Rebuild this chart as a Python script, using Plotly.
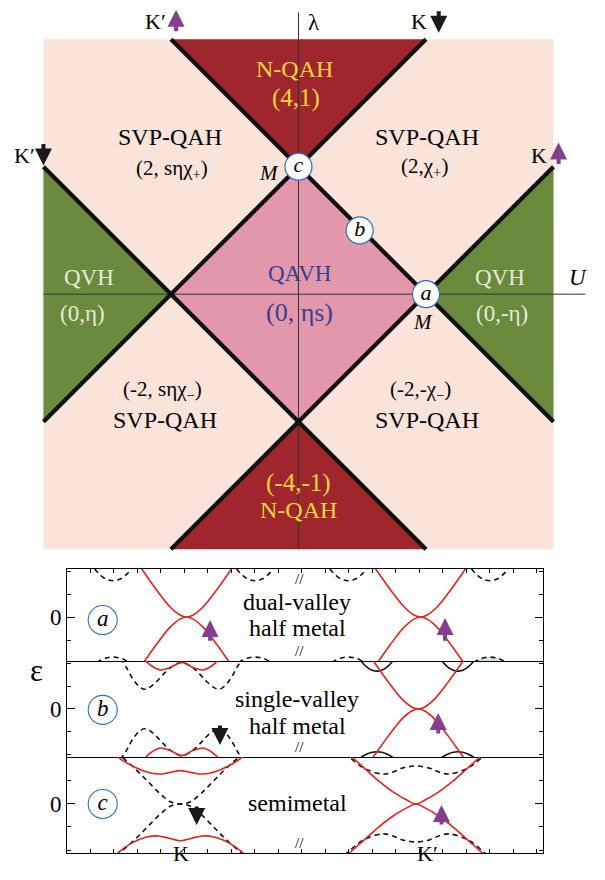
import plotly.graph_objects as go

SERIF = "Liberation Serif"

# ================= phase diagram (top) : (U, lambda) =================
FRAME_U = [-2.0, 2.0, 2.0, -2.0]
FRAME_L = [-2.0, -2.0, 2.0, 2.0]
BOUND_U0 = [-1.0, 1.0, -2.0, 2.0]
BOUND_L0 = [2.0, 2.0, 1.0, 1.0]
BOUND_U1 = [2.0, -2.0, 1.0, -1.0]
BOUND_L1 = [-1.0, -1.0, -2.0, -2.0]
NQAH_TOP_U = [-1.0, 1.0, 0.0]
NQAH_TOP_L = [2.0, 2.0, 1.0]
NQAH_BOT_U = [-1.0, 1.0, 0.0]
NQAH_BOT_L = [-2.0, -2.0, -1.0]
QAVH_U = [0.0, 1.0, 0.0, -1.0]
QAVH_L = [1.0, 0.0, -1.0, 0.0]
QVH_LEFT_U = [-2.0, -1.0, -2.0]
QVH_LEFT_L = [1.0, 0.0, -1.0]
QVH_RIGHT_U = [2.0, 1.0, 2.0]
QVH_RIGHT_L = [1.0, 0.0, -1.0]
U_AXIS = [-2.0, 2.25]
L_AXIS = [-2.0, 2.21]
POINT_LABELS = ["a", "b", "c"]
POINT_U = [1.0, 0.48, 0.0]
POINT_L = [0.0, 0.50, 1.0]

C_BG = "#fae3d9"
C_NQAH = "#a0262d"
C_QAVH = "#e397ab"
C_QVH = "#6b8a3e"
C_YEL = "#f2d43c"
C_BLUE_T = "#3a3e90"
C_QVH_T = "#e6ecd8"
C_PURPLE = "#84408f"
C_RED = "#e3231f"

PHASE_TEXT = [
    ("N-QAH", -0.03, 1.77, 24, C_YEL),
    ("(4,1)", -0.02, 1.54, 25, C_YEL),
    ("SVP-QAH", -1.01, 1.23, 24, "black"),
    ("(2, sηχ<sub>+</sub>)", -0.99, 0.98, 21, "black"),
    ("SVP-QAH", 1.01, 1.23, 24, "black"),
    ("(2,χ<sub>+</sub>)", 0.985, 1.0, 21, "black"),
    ("QVH", -1.64, 0.13, 23, C_QVH_T),
    ("(0,η)", -1.69, -0.15, 23, C_QVH_T),
    ("QAVH", 0.01, 0.16, 23, C_BLUE_T),
    ("(0, ηs)", 0.01, -0.14, 26, C_BLUE_T),
    ("QVH", 1.58, 0.13, 23, C_QVH_T),
    ("(0,-η)", 1.60, -0.15, 23, C_QVH_T),
    ("(-2, sηχ<sub>−</sub>)", -1.07, -0.75, 21, "black"),
    ("SVP-QAH", -1.05, -0.99, 24, "black"),
    ("(-2,-χ<sub>−</sub>)", 0.96, -0.75, 21, "black"),
    ("SVP-QAH", 1.01, -0.99, 24, "black"),
    ("(-4,-1)", 0.0, -1.48, 25, C_YEL),
    ("N-QAH", 0.0, -1.69, 24, C_YEL),
]
# valley/spin labels around the frame: text, U, lambda
CORNER_TEXT = [("K′", -1.12, 2.14), ("K", 0.945, 2.14), ("K′", -2.15, 1.09), ("K", 1.89, 1.09)]
# spin arrows: U, lambda_tail, lambda_tip, colour
TOP_ARROWS = [(-0.96, 2.05, 2.23, C_PURPLE), (1.10, 2.23, 2.05, "#1a1a1a"),
              (-2.0, 1.19, 1.01, "#1a1a1a"), (2.04, 1.01, 1.19, C_PURPLE)]

# ================= band panels (bottom) : (k, epsilon) =================
K_RANGE = [0.0, 20.26]
E_RANGE = {"a": [-1.91, 2.09], "b": [-2.09, 2.09], "c": [-2.13, 2.04]}

# panel a : dual-valley half metal
A_VALLEYS = [5.09, 15.05]
DIRAC_DK = [-2.3, -1.9, -1.27, -0.71, -0.28, 0.0, 0.28, 0.71, 1.27, 1.9, 2.3]
DIRAC_E = [2.6, 2.07, 1.17, 0.45, 0.09, 0.0, 0.09, 0.45, 1.17, 2.07, 2.6]
A_ARC_K = [1.96, 8.0, 11.97, 18.0]
ARC_DK = [-1.0, -0.78, -0.5, -0.25, 0.0, 0.25, 0.5, 0.78, 1.0]
A_ARC_TOP_E = [2.42, 2.09, 1.79, 1.63, 1.58, 1.63, 1.79, 2.09, 2.42]
A_ARC_BOT_E = [-2.21, -2.03, -1.86, -1.77, -1.74, -1.77, -1.86, -2.03, -2.21]

# panel b : single-valley half metal
B_K = 4.88
B_KP = 14.95
B_K_RED_DK = [-2.0, -1.56, -1.35, -0.92, -0.5, 0.0, 0.5, 0.92, 1.35, 1.56, 2.0]
B_K_RED_E = [2.6, 2.13, 1.93, 1.70, 1.80, 2.03, 1.80, 1.70, 1.93, 2.13, 2.6]
B_K_DASH_DK = [-2.6, -2.37, -2.09, -1.8, -1.6, -1.38, -1.07, -0.78, -0.42, 0.0,
               0.42, 0.78, 1.07, 1.38, 1.6, 1.8, 2.09, 2.37, 2.6]
B_K_DASH_E = [2.2, 1.84, 1.33, 0.97, 0.86, 0.93, 1.19, 1.51, 1.84, 2.03,
              1.84, 1.51, 1.19, 0.93, 0.86, 0.97, 1.33, 1.84, 2.2]
B_CUP_K = [13.19, 16.64]
CUP_DK = [-0.9, -0.68, -0.4, -0.2, 0.0, 0.2, 0.4, 0.68, 0.9]
B_CUP_TOP_E = [2.42, 2.09, 1.80, 1.69, 1.65, 1.69, 1.80, 2.09, 2.42]
B_CUP_BOT_E = [-2.31, -2.11, -1.95, -1.88, -1.86, -1.88, -1.95, -2.11, -2.31]

# panel c : semimetal
C_K = 4.83
C_KP = 14.85
C_K_DASH_DK = [-3.0, -2.63, -1.99, -1.42, -0.85, -0.43, 0.0, 0.43, 0.85, 1.42, 1.99, 2.63, 3.0]
C_K_DASH_E = [2.55, 2.17, 1.59, 1.01, 0.43, 0.1, 0.0, 0.1, 0.43, 1.01, 1.59, 2.17, 2.55]
C_K_RED_DK = [-2.9, -2.6, -2.04, -1.47, -0.92, -0.48, 0.0, 0.48, 0.92, 1.47, 2.04, 2.6, 2.9]
C_K_RED_UP_E = [2.4, 1.99, 1.65, 1.40, 1.30, 1.36, 1.45, 1.36, 1.30, 1.40, 1.65, 2.01, 2.4]
C_K_RED_LO_E = [-2.45, -2.07, -1.68, -1.45, -1.39, -1.49, -1.60, -1.49, -1.39, -1.45, -1.68, -2.07, -2.45]
C_KP_RED_DK = [-3.2, -2.84, -2.2, -1.56, -0.94, -0.37, 0.0, 0.37, 0.94, 1.56, 2.2, 2.84, 3.2]
C_KP_RED_E = [2.45, 2.14, 1.56, 0.98, 0.5, 0.16, 0.0, 0.16, 0.5, 0.98, 1.56, 2.14, 2.45]
C_KP_DASH_DK = [-3.3, -2.9, -2.2, -1.4, -1.0, -0.6, -0.3, 0.0, 0.3, 0.6, 1.0, 1.4, 2.2, 2.9, 3.3]
C_KP_DASH_E = [2.5, 2.1, 1.55, 1.30, 1.38, 1.55, 1.62, 1.65, 1.62, 1.55, 1.38, 1.30, 1.55, 2.1, 2.5]

PANEL_NAMES = ["a", "b", "c"]
PANEL_TEXT = {"a": [("dual-valley", 0.64), ("half metal", -0.48)],
              "b": [("single-valley", 0.42), ("half metal", -0.72)],
              "c": [("semimetal", 0.03)]}
TEXT_K = 9.81
LABEL_K = 1.52
LABEL_E = {"a": -0.13, "b": -0.04, "c": 0.0}
# spin arrows: panel, k, eps_tail, eps_tip, colour
BAND_ARROWS = [("a", 6.09, -1.09, -0.13, C_PURPLE), ("a", 16.09, -1.09, -0.04, C_PURPLE),
               ("b", 6.51, -0.65, -1.57, "#1a1a1a"), ("b", 15.80, -1.13, -0.17, C_PURPLE),
               ("c", 5.52, -0.04, -0.91, "#1a1a1a"), ("c", 15.94, -0.96, -0.04, C_PURPLE)]
VALLEY_TICKS = [("K", 4.85), ("K′", 15.36)]
BREAK_K = 9.9

AX = {"a": ("x2", "y2"), "b": ("x3", "y3"), "c": ("x4", "y4")}

fig = go.Figure()


def add_poly(u, l, color):
    fig.add_trace(go.Scatter(x=u + [u[0]], y=l + [l[0]], mode="lines", fill="toself",
                             fillcolor=color, line=dict(width=0, color=color),
                             hoverinfo="skip", showlegend=False, xaxis="x", yaxis="y"))


add_poly(FRAME_U, FRAME_L, C_BG)
add_poly(NQAH_TOP_U, NQAH_TOP_L, C_NQAH)
add_poly(NQAH_BOT_U, NQAH_BOT_L, C_NQAH)
add_poly(QAVH_U, QAVH_L, C_QAVH)
add_poly(QVH_LEFT_U, QVH_LEFT_L, C_QVH)
add_poly(QVH_RIGHT_U, QVH_RIGHT_L, C_QVH)

# thin axes
fig.add_trace(go.Scatter(x=U_AXIS, y=[0, 0], mode="lines", line=dict(color="#333", width=1),
                         hoverinfo="skip", showlegend=False))
fig.add_trace(go.Scatter(x=[0, 0], y=L_AXIS, mode="lines", line=dict(color="#333", width=1),
                         hoverinfo="skip", showlegend=False))
# phase boundaries
for u0, l0, u1, l1 in zip(BOUND_U0, BOUND_L0, BOUND_U1, BOUND_L1):
    fig.add_trace(go.Scatter(x=[u0, u1], y=[l0, l1], mode="lines",
                             line=dict(color="#111", width=4.2),
                             hoverinfo="skip", showlegend=False))
# special points
fig.add_trace(go.Scatter(x=POINT_U, y=POINT_L, mode="markers+text",
                         text=["<i>%s</i>" % s for s in POINT_LABELS],
                         textposition="middle center",
                         textfont=dict(family=SERIF, size=22, color="black"),
                         marker=dict(size=27, color="white", line=dict(color="#2f6fc0", width=1.2)),
                         hoverinfo="skip", showlegend=False))

ann = []
for t, u, l, s, c in PHASE_TEXT:
    ann.append(dict(x=u, y=l, xref="x", yref="y", text=t, showarrow=False,
                    font=dict(family=SERIF, size=s, color=c)))
for t, u, l in CORNER_TEXT:
    ann.append(dict(x=u, y=l, xref="x", yref="y", text=t, showarrow=False,
                    font=dict(family=SERIF, size=22, color="black")))
ann.append(dict(x=0.12, y=2.13, xref="x", yref="y", text="λ", showarrow=False,
                font=dict(family=SERIF, size=23, color="black")))
ann.append(dict(x=2.19, y=0.13, xref="x", yref="y", text="<i>U</i>", showarrow=False,
                font=dict(family=SERIF, size=23, color="black")))
ann.append(dict(x=-0.23, y=0.95, xref="x", yref="y", text="<i>M</i>", showarrow=False,
                font=dict(family=SERIF, size=21, color="black")))
ann.append(dict(x=0.98, y=-0.22, xref="x", yref="y", text="<i>M</i>", showarrow=False,
                font=dict(family=SERIF, size=21, color="black")))
for u, lt, lh, c in TOP_ARROWS:
    ann.append(dict(x=u, y=lh, ax=u, ay=lt, xref="x", yref="y", axref="x", ayref="y",
                    text="", showarrow=True, arrowhead=2, arrowsize=0.85, arrowwidth=4,
                    arrowcolor=c, standoff=0, startstandoff=0))


# ---------------- band traces ----------------
def band(panel, kc, dk, e, color, dash=None, sign=1.0, fill=None):
    xa, ya = AX[panel]
    fig.add_trace(go.Scatter(
        x=[kc + d for d in dk], y=[sign * v for v in e], mode="lines",
        line=dict(color=color, width=1.6, dash=dash, shape="spline", smoothing=1.0),
        fill="toself" if fill else None, fillcolor=fill,
        hoverinfo="skip", showlegend=False, xaxis=xa, yaxis=ya))


DASH = "5px,4px"
# panel a
for kc in A_ARC_K:
    band("a", kc, ARC_DK, A_ARC_TOP_E, "#111", DASH)
for i, kc in enumerate(A_ARC_K):
    band("a", kc, ARC_DK, A_ARC_BOT_E, "#111", DASH, fill=("#cfe5cf" if i == 3 else None))
for kc in A_VALLEYS:
    band("a", kc, DIRAC_DK, DIRAC_E, C_RED)
    band("a", kc, DIRAC_DK, DIRAC_E, C_RED, sign=-1.0)
# panel b
band("b", B_K, B_K_DASH_DK, B_K_DASH_E, "#111", DASH)
band("b", B_K, B_K_DASH_DK, B_K_DASH_E, "#111", DASH, sign=-1.0)
band("b", B_K, B_K_RED_DK, B_K_RED_E, C_RED)
band("b", B_K, B_K_RED_DK, B_K_RED_E, C_RED, sign=-1.0)
for kc in B_CUP_K:
    band("b", kc, CUP_DK, B_CUP_TOP_E, "#111")
    band("b", kc, CUP_DK, B_CUP_BOT_E, "#111")
band("b", B_KP, DIRAC_DK, DIRAC_E, C_RED)
band("b", B_KP, DIRAC_DK, DIRAC_E, C_RED, sign=-1.0)
# panel c
band("c", C_K, C_K_DASH_DK, C_K_DASH_E, "#111", DASH)
band("c", C_K, C_K_DASH_DK, C_K_DASH_E, "#111", DASH, sign=-1.0)
band("c", C_K, C_K_RED_DK, C_K_RED_UP_E, C_RED)
band("c", C_K, C_K_RED_DK, C_K_RED_LO_E, C_RED)
band("c", C_KP, C_KP_DASH_DK, C_KP_DASH_E, "#111", DASH)
band("c", C_KP, C_KP_DASH_DK, C_KP_DASH_E, "#111", DASH, sign=-1.0)
band("c", C_KP, C_KP_RED_DK, C_KP_RED_E, C_RED)
band("c", C_KP, C_KP_RED_DK, C_KP_RED_E, C_RED, sign=-1.0)

# panel labels (circled letters)
for p in PANEL_NAMES:
    xa, ya = AX[p]
    fig.add_trace(go.Scatter(x=[LABEL_K], y=[LABEL_E[p]], mode="markers+text",
                             text=["<i>%s</i>" % p], textposition="middle center",
                             textfont=dict(family=SERIF, size=23, color="black"),
                             marker=dict(size=29, color="white", line=dict(color="#2f6fc0", width=1.1)),
                             hoverinfo="skip", showlegend=False, xaxis=xa, yaxis=ya))
    for t, e in PANEL_TEXT[p]:
        ann.append(dict(x=TEXT_K, y=e, xref=xa, yref=ya, text=t, showarrow=False,
                        font=dict(family=SERIF, size=24, color="black")))

for p, k, et, eh, c in BAND_ARROWS:
    xa, ya = AX[p]
    ann.append(dict(x=k, y=eh, ax=k, ay=et, xref=xa, yref=ya, axref=xa, ayref=ya,
                    text="", showarrow=True, arrowhead=2, arrowsize=0.85, arrowwidth=4,
                    arrowcolor=c, standoff=0, startstandoff=0))

for t, k in VALLEY_TICKS:
    ann.append(dict(x=k, y=-0.16, xref="x4", yref="y4 domain", text=t, showarrow=False,
                    font=dict(family=SERIF, size=22, color="black")))

for xa, yd, yv in [("x2", "y2 domain", 1), ("x2", "y2 domain", 0), ("x3", "y3 domain", 0), ("x4", "y4 domain", 0)]:
    ann.append(dict(x=BREAK_K, y=yv, xref=xa, yref=yd, text="//", showarrow=False,
                    font=dict(family=SERIF, size=15, color="black")))

ann.append(dict(x=0.0335, y=0.218, xref="paper", yref="paper", text="ε", showarrow=False,
                font=dict(family=SERIF, size=31, color="black")))

# ---------------- layout ----------------
# page body has an 8px margin: the figure is 597x872, drawn 8px in from the window edge
# top panel: 127.5 px per unit in both directions
top_x = dict(domain=[0, 1], range=[-2.278, 2.404], visible=False, fixedrange=True)
top_y = dict(domain=[0.36697, 1], range=[-2.0847, 2.2447], visible=False, fixedrange=True)

xdom = [0.09883, 0.89615]
ydoms = {"a": [0.25115, 0.35665], "b": [0.14106, 0.25115], "c": [0.03096, 0.14106]}


def xaxis_cfg(anchor, side, ticks, mirror):
    return dict(domain=xdom, range=K_RANGE, anchor=anchor, showline=True, mirror=mirror,
                linecolor="black", linewidth=1, showgrid=False, zeroline=False,
                ticks="inside" if ticks else "", tickmode="linear", tick0=0, dtick=1,
                ticklen=4, tickcolor="black", side=side, showticklabels=False)


def yaxis_cfg(anchor, p):
    return dict(domain=ydoms[p], range=E_RANGE[p], anchor=anchor, showline=True,
                mirror="ticks", linecolor="black", linewidth=1, showgrid=False,
                zeroline=False, ticks="inside", tickmode="array", tickvals=[0],
                ticktext=["0"], ticklen=8, tickcolor="black",
                tickfont=dict(family=SERIF, size=23, color="black"),
                minor=dict(ticks="inside", ticklen=4, tickcolor="black",
                           tickmode="linear", tick0=0, dtick=1))


fig.update_layout(
    width=597, height=872, margin=dict(l=0, r=0, t=0, b=0),
    paper_bgcolor="white", plot_bgcolor="rgba(0,0,0,0)",
    font=dict(family=SERIF),
    showlegend=False, annotations=ann,
    xaxis=top_x, yaxis=top_y,
    xaxis2=xaxis_cfg("y2", "top", True, True), yaxis2=yaxis_cfg("x2", "a"),
    xaxis3=xaxis_cfg("y3", "bottom", False, False), yaxis3=yaxis_cfg("x3", "b"),
    xaxis4=xaxis_cfg("y4", "bottom", True, False), yaxis4=yaxis_cfg("x4", "c"),
)

fig.write_html("out.html")
